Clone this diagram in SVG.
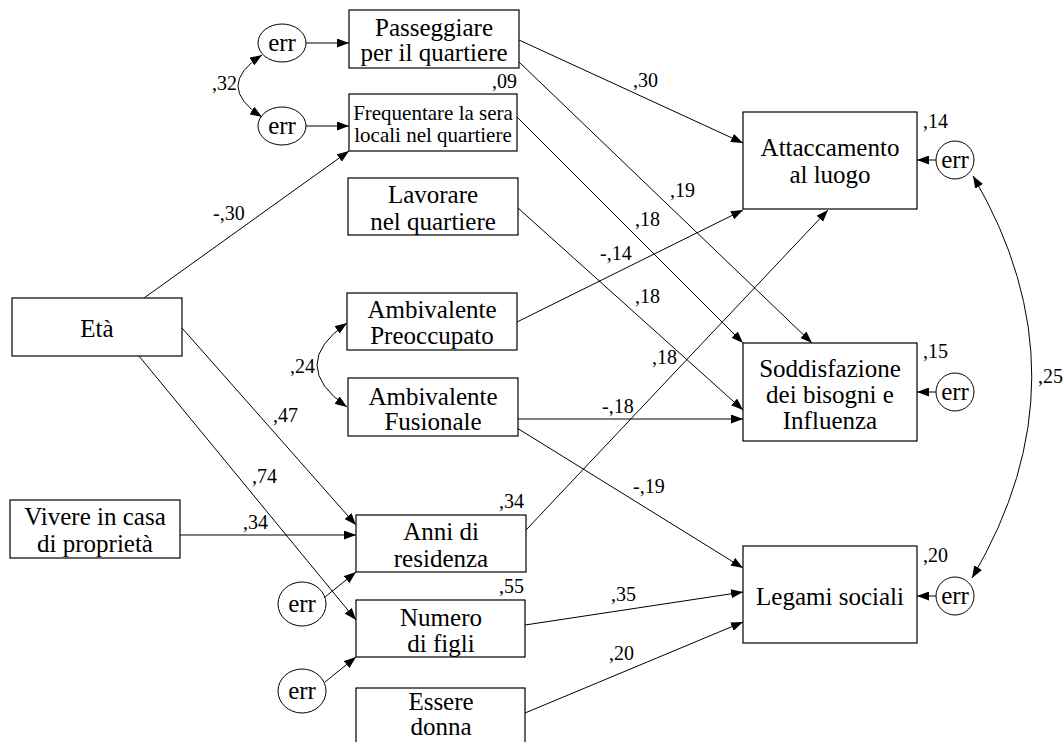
<svg xmlns="http://www.w3.org/2000/svg" width="1064" height="742" viewBox="0 0 1064 742" font-family="Liberation Serif, Times New Roman, serif">
<defs>
<marker id="ah" markerWidth="12" markerHeight="9" refX="12" refY="4.5" orient="auto-start-reverse" markerUnits="userSpaceOnUse">
<path d="M0,0 L12,4.5 L0,9 z" fill="#000"/>
</marker>
<style>
text{font-family:'Liberation Serif','Times New Roman',serif}
.box{fill:#fff;stroke:#000;stroke-width:1.2}
.t{font-size:25px;fill:#000;text-anchor:middle}
.ts{font-size:21px;fill:#000;text-anchor:middle}
.l{font-size:20px;fill:#000}
.c{fill:none;stroke:#000;stroke-width:1;marker-end:url(#ah)}
.d{fill:none;stroke:#000;stroke-width:1;marker-start:url(#ah);marker-end:url(#ah)}
.e{fill:#fff;stroke:#000;stroke-width:1}
</style>
</defs>
<rect width="1064" height="742" fill="#fff"/>

<g id="connectors">
<line class="c" x1="306" y1="43" x2="349" y2="43"/>
<line class="c" x1="306" y1="126" x2="349" y2="126"/>
<path class="d" d="M262,55 Q214,86 262,117"/>
<line class="c" x1="144" y1="298" x2="349" y2="151"/>
<line class="c" x1="182" y1="328" x2="356" y2="525"/>
<line class="c" x1="139" y1="356" x2="356" y2="620"/>
<line class="c" x1="180" y1="535" x2="356" y2="535"/>
<line class="c" x1="325" y1="597" x2="356" y2="572"/>
<line class="c" x1="325" y1="682" x2="356" y2="657"/>
<line class="c" x1="519" y1="40" x2="743" y2="143"/>
<line class="c" x1="519" y1="62" x2="812" y2="343"/>
<line class="c" x1="517" y1="117" x2="743" y2="343"/>
<line class="c" x1="518" y1="208" x2="743" y2="410"/>
<line class="c" x1="517" y1="322" x2="743" y2="210"/>
<line class="c" x1="518" y1="419" x2="743" y2="419"/>
<line class="c" x1="517" y1="428" x2="743" y2="568"/>
<line class="c" x1="526" y1="530" x2="828" y2="210"/>
<line class="c" x1="525" y1="625" x2="743" y2="592"/>
<line class="c" x1="525" y1="713" x2="743" y2="622"/>
<line class="c" x1="936" y1="160" x2="917" y2="160"/>
<line class="c" x1="936" y1="392" x2="917" y2="392"/>
<line class="c" x1="936" y1="596" x2="917" y2="596"/>
<path class="d" d="M973,176 Q1091,377 972,578"/>
<path class="d" d="M347,323 Q287,365 347,407"/>
</g>

<g id="labels">
<text class="l" x="212" y="90">,32</text>
<text class="l" x="492" y="88">,09</text>
<text class="l" x="633" y="87">,30</text>
<text class="l" x="213" y="220">-,30</text>
<text class="l" x="670" y="197">,19</text>
<text class="l" x="635" y="226">,18</text>
<text class="l" x="600" y="260">-,14</text>
<text class="l" x="635" y="303">,18</text>
<text class="l" x="652" y="364">,18</text>
<text class="l" x="290" y="373">,24</text>
<text class="l" x="602" y="413">-,18</text>
<text class="l" x="273" y="422">,47</text>
<text class="l" x="252" y="483">,74</text>
<text class="l" x="633" y="493">-,19</text>
<text class="l" x="499" y="508">,34</text>
<text class="l" x="243" y="529">,34</text>
<text class="l" x="499" y="593">,55</text>
<text class="l" x="611" y="601">,35</text>
<text class="l" x="609" y="660">,20</text>
<text class="l" x="923" y="128">,14</text>
<text class="l" x="923" y="358">,15</text>
<text class="l" x="923" y="562">,20</text>
<text class="l" x="1038" y="383">,25</text>
</g>

<g id="err1"><ellipse class="e" cx="282" cy="43" rx="24" ry="19"/><text class="t" x="282" y="51">err</text></g>
<g id="err2"><ellipse class="e" cx="282" cy="126" rx="24" ry="19"/><text class="t" x="282" y="134">err</text></g>
<g id="err3"><ellipse class="e" cx="302" cy="604" rx="24" ry="22"/><text class="t" x="302" y="612">err</text></g>
<g id="err4"><ellipse class="e" cx="302" cy="691" rx="24" ry="22"/><text class="t" x="302" y="699">err</text></g>
<g id="err5"><circle class="e" cx="955" cy="160" r="19"/><text class="t" x="955" y="168">err</text></g>
<g id="err6"><circle class="e" cx="955" cy="392" r="19"/><text class="t" x="955" y="400">err</text></g>
<g id="err7"><circle class="e" cx="955" cy="596" r="19"/><text class="t" x="955" y="604">err</text></g>

<g id="passeggiare"><rect class="box" x="349" y="10" width="170" height="58"/><text class="t" x="434" y="36">Passeggiare</text><text class="t" x="434" y="61">per il quartiere</text></g>
<g id="frequentare"><rect class="box" x="349" y="94" width="168" height="57"/><text class="ts" x="433" y="120">Frequentare la sera</text><text class="ts" x="433" y="142">locali nel quartiere</text></g>
<g id="lavorare"><rect class="box" x="348" y="178" width="170" height="57"/><text class="t" x="433" y="203">Lavorare</text><text class="t" x="433" y="230">nel quartiere</text></g>
<g id="preoccupato"><rect class="box" x="347" y="293" width="170" height="57"/><text class="t" x="432" y="318">Ambivalente</text><text class="t" x="432" y="344">Preoccupato</text></g>
<g id="fusionale"><rect class="box" x="348" y="378" width="170" height="58"/><text class="t" x="433" y="405">Ambivalente</text><text class="t" x="433" y="430">Fusionale</text></g>
<g id="eta"><rect class="box" x="12" y="298" width="170" height="58"/><text class="t" x="97" y="337">Età</text></g>
<g id="vivere"><rect class="box" x="10" y="500" width="170" height="58"/><text class="t" x="95" y="525">Vivere in casa</text><text class="t" x="95" y="552">di proprietà</text></g>
<g id="anni"><rect class="box" x="356" y="515" width="170" height="57"/><text class="t" x="441" y="540">Anni di</text><text class="t" x="441" y="567">residenza</text></g>
<g id="numero"><rect class="box" x="356" y="600" width="169" height="57"/><text class="t" x="441" y="626">Numero</text><text class="t" x="441" y="652">di figli</text></g>
<g id="essere"><rect class="box" x="356" y="688" width="169" height="60"/><text class="t" x="441" y="710">Essere</text><text class="t" x="441" y="735">donna</text></g>
<g id="attaccamento"><rect class="box" x="743" y="112" width="174" height="97"/><text class="t" x="830" y="156">Attaccamento</text><text class="t" x="830" y="183">al luogo</text></g>
<g id="soddisfazione"><rect class="box" x="743" y="343" width="174" height="98"/><text class="t" x="830" y="377">Soddisfazione</text><text class="t" x="830" y="403">dei bisogni e</text><text class="t" x="830" y="429">Influenza</text></g>
<g id="legami"><rect class="box" x="743" y="546" width="174" height="97"/><text class="t" x="830" y="605">Legami sociali</text></g>
</svg>
